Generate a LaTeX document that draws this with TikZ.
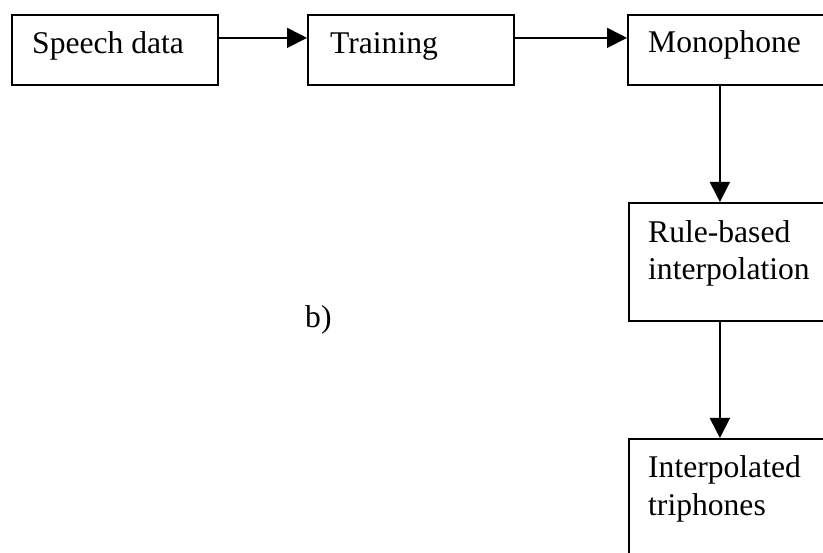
\documentclass[tikz,border=0pt]{standalone}
\usepackage{fontspec}
\setmainfont{Liberation Serif}
\usetikzlibrary{arrows.meta}
\begin{document}
\begin{tikzpicture}[x=1pt,y=-1pt,
  box/.style={draw=black, line width=1.8pt, rectangle, inner sep=0pt, anchor=north west},
  lbl/.style={anchor=base west, inner sep=0pt, font=\fontsize{31.6}{37}\selectfont},
  conn/.style={line width=1.8pt, -{Triangle[length=20pt,width=20pt]}}]
\useasboundingbox (0,0) rectangle (823,553);
\clip (0,0) rectangle (823,553);
\fill[white] (0,0) rectangle (823,553);
\node[box, minimum width=206pt, minimum height=70pt] (speech) at (11,14) {};
\node[box, minimum width=206pt, minimum height=70pt] (train) at (307,14) {};
\node[box, minimum width=206pt, minimum height=70pt] (mono) at (627,14) {};
\node[box, minimum width=206pt, minimum height=118pt] (rule) at (628,202) {};
\node[box, minimum width=206pt, minimum height=140pt] (interp) at (628,438) {};
\node[lbl] (t1) at (32,54) {Speech data};
\node[lbl] (t2) at (330,54) {Training};
\node[lbl] (t3) at (648,53) {Monophone};
\node[lbl] (t4) at (648,243) {Rule-based};
\node[lbl] (t5) at (648,280) {interpolation};
\node[lbl] (t6) at (648,478) {Interpolated};
\node[lbl] (t7) at (648,515) {triphones};
\node[lbl] (t8) at (305,328) {b)};
\draw[conn] ([yshift=12pt]speech.east) -- ([yshift=12pt]train.west);
\draw[conn] ([yshift=12pt]train.east) -- ([yshift=12pt]mono.west);
\draw[conn] ([xshift=-11pt]mono.south) -- ([xshift=-12pt]rule.north);
\draw[conn] ([xshift=-12pt]rule.south) -- ([xshift=-12pt]interp.north);
\end{tikzpicture}
\end{document}
